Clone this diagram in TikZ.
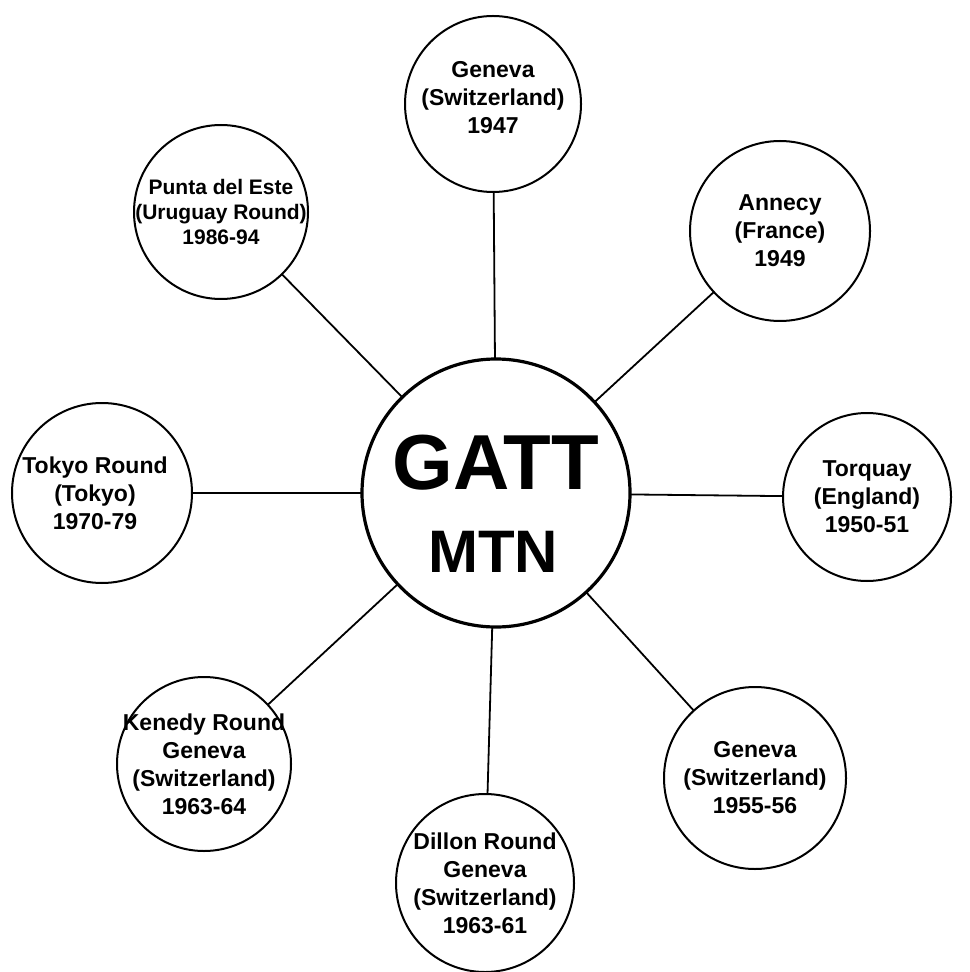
\documentclass[tikz,border=0pt]{standalone}
\usepackage{fontspec}
\setmainfont{Liberation Sans}
\usetikzlibrary{positioning}

\begin{document}
\begin{tikzpicture}[x=0.5pt,y=-0.5pt,
          every node/.style={inner sep=0pt,outer sep=0pt},
          hub/.style={circle,draw,line width=1.6pt,minimum size=134pt},
          round/.style={circle,draw,line width=1pt,minimum size=#1},
          roundtext/.style={align=center,font=\bfseries\fontsize{11.5}{14}\selectfont},
          link/.style={line width=0.9pt}]

                \useasboundingbox (0,0) rectangle (969,972);

                % centre
                \node[hub] (gatt) at (496,493) {};
                \node[anchor=base,font=\bfseries\fontsize{39}{39}\selectfont] (gattword) at (496,489) {GATT};
                \node[anchor=base,font=\bfseries\fontsize{30}{30}\selectfont] (mtnword) at (493,572) {MTN};

                % rounds
                \node[round=88pt] (gen47) at (493,104) {};
                \node[round=90pt] (annecy) at (780,231) {};
                \node[round=84pt] (torquay) at (867,497) {};
                \node[round=91pt] (gen55) at (755,778) {};
                \node[round=89pt] (dillon) at (485,883) {};
                \node[round=87pt] (kenedy) at (204,764) {};
                \node[round=90pt] (tokyo) at (102,493) {};
                \node[round=87pt] (punta) at (221,212) {};

                \node[roundtext] (gen47t) at (493,98) {Geneva\\(Switzerland)\\1947};
                \node[roundtext] (annecyt) at (annecy) {Annecy\\(France)\\1949};
                \node[roundtext] (torquayt) at (torquay) {Torquay\\(England)\\1950-51};
                \node[roundtext] (gen55t) at (gen55) {Geneva\\(Switzerland)\\1955-56};
                \node[roundtext] (dillont) at (dillon) {Dillon Round\\Geneva\\(Switzerland)\\1963-61};
                \node[roundtext] (kenedyt) at (kenedy) {Kenedy Round\\Geneva\\(Switzerland)\\1963-64};
                \node[roundtext] (tokyot) at (95,493) {Tokyo Round\\(Tokyo)\\1970-79};
                \node[roundtext,font=\bfseries\fontsize{10.5}{12.5}\selectfont] (puntat) at (punta) {Punta del Este\\(Uruguay Round)\\1986-94};

                \foreach \r in {gen47,annecy,torquay,gen55,dillon,kenedy,tokyo,punta}
                  \draw[link] (gatt) -- (\r);
              \end{tikzpicture}
\end{document}
